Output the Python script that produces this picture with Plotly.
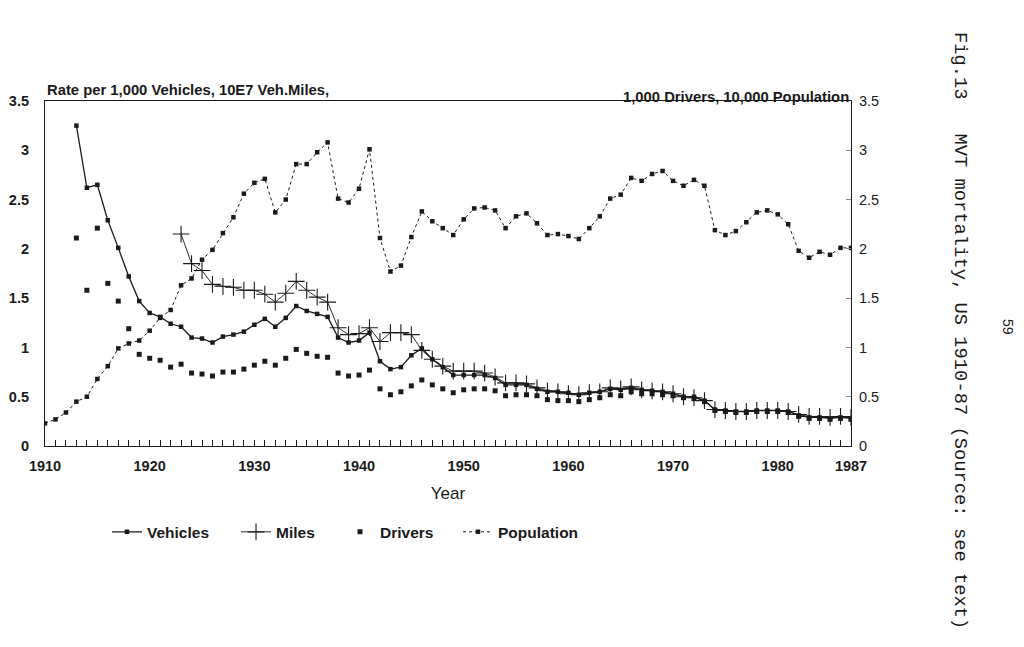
import plotly.graph_objects as go

years_all = list(range(1910, 1988))
years_veh = list(range(1913, 1988))
years_mil = list(range(1923, 1988))

population = [0.23, 0.27, 0.34, 0.45, 0.50, 0.68, 0.81, 0.99, 1.04, 1.07,
              1.17, 1.30, 1.38, 1.63, 1.70, 1.89, 1.99, 2.16, 2.32, 2.56,
              2.67, 2.71, 2.37, 2.50, 2.86, 2.86, 2.98, 3.08, 2.51, 2.47,
              2.61, 3.01, 2.11, 1.77, 1.83, 2.12, 2.38, 2.28, 2.21, 2.14,
              2.30, 2.41, 2.42, 2.39, 2.21, 2.33, 2.36, 2.26, 2.14, 2.15,
              2.13, 2.10, 2.21, 2.33, 2.51, 2.55, 2.72, 2.69, 2.76, 2.79,
              2.69, 2.64, 2.70, 2.64, 2.19, 2.14, 2.18, 2.27, 2.37, 2.39,
              2.35, 2.25, 1.98, 1.91, 1.97, 1.94, 2.01, 2.01]

vehicles = [3.25, 2.62, 2.65, 2.29, 2.01, 1.72, 1.47, 1.35, 1.31, 1.24,
            1.21, 1.10, 1.09, 1.05, 1.11, 1.13, 1.16, 1.23, 1.29, 1.21,
            1.30, 1.42, 1.37, 1.34, 1.31, 1.10, 1.05, 1.07, 1.15, 0.86,
            0.78, 0.80, 0.92, 0.99, 0.88, 0.80, 0.72, 0.72, 0.72, 0.72,
            0.69, 0.62, 0.62, 0.62, 0.58, 0.55, 0.55, 0.54, 0.52, 0.54,
            0.55, 0.58, 0.57, 0.59, 0.57, 0.56, 0.55, 0.53, 0.50, 0.50,
            0.46, 0.37, 0.36, 0.35, 0.35, 0.36, 0.36, 0.36, 0.35, 0.31,
            0.29, 0.29, 0.28, 0.29, 0.28]

miles = [2.15, 1.85, 1.78, 1.64, 1.62, 1.61, 1.58, 1.58, 1.54, 1.46,
         1.55, 1.67, 1.58, 1.51, 1.46, 1.20, 1.13, 1.14, 1.20, 1.06,
         1.15, 1.15, 1.13, 0.97, 0.88, 0.81, 0.76, 0.76, 0.76, 0.74,
         0.70, 0.64, 0.64, 0.63, 0.59, 0.56, 0.55, 0.53, 0.52, 0.54,
         0.55, 0.59, 0.58, 0.60, 0.57, 0.56, 0.55, 0.53, 0.50, 0.49,
         0.46, 0.37, 0.36, 0.35, 0.35, 0.36, 0.36, 0.36, 0.35, 0.32,
         0.30, 0.30, 0.29, 0.30, 0.29]

drivers = [2.11, 1.58, 2.21, 1.65, 1.47, 1.19, 0.93, 0.89, 0.87, 0.80,
           0.83, 0.74, 0.73, 0.71, 0.75, 0.75, 0.78, 0.82, 0.86, 0.82,
           0.89, 0.98, 0.94, 0.91, 0.90, 0.74, 0.71, 0.72, 0.77, 0.58,
           0.52, 0.55, 0.61, 0.67, 0.62, 0.58, 0.54, 0.57, 0.58, 0.58,
           0.56, 0.51, 0.52, 0.52, 0.51, 0.47, 0.46, 0.46, 0.45, 0.47,
           0.49, 0.52, 0.51, 0.55, 0.53, 0.53, 0.52, 0.51, 0.49, 0.48,
           0.45, 0.36, 0.35, 0.34, 0.34, 0.35, 0.35, 0.35, 0.34, 0.30,
           0.28, 0.28, 0.27, 0.28, 0.27]

x_tickvals = [1910, 1920, 1930, 1940, 1950, 1960, 1970, 1980, 1987]
x_ticktext = ["1910", "1920", "1930", "1940", "1950", "1960", "1970", "1980", "1987"]
y_tickvals = [0, 0.5, 1, 1.5, 2, 2.5, 3, 3.5]
y_ticktext = ["0", "0.5", "1", "1.5", "2", "2.5", "3", "3.5"]

INK = "#1a1a1a"
FONT = "Liberation Sans"

fig = go.Figure()
fig.add_trace(go.Scatter(
    x=years_veh, y=vehicles, name="Vehicles", mode="lines+markers",
    line=dict(color=INK, width=1.3),
    marker=dict(symbol="square", size=4.5, color=INK), yaxis="y",
    legend="legend"))
fig.add_trace(go.Scatter(
    x=years_mil, y=miles, name="Miles", mode="lines+markers",
    line=dict(color=INK, width=0.9),
    marker=dict(symbol="cross-thin", size=12, color=INK,
                line=dict(color=INK, width=1.1)), yaxis="y",
    legend="legend2"))
fig.add_trace(go.Scatter(
    x=years_veh, y=drivers, name="Drivers", mode="markers",
    marker=dict(symbol="square", size=5, color=INK), yaxis="y2",
    legend="legend3"))
fig.add_trace(go.Scatter(
    x=years_all, y=population, name="Population", mode="lines+markers",
    line=dict(color=INK, width=1, dash="dot"),
    marker=dict(symbol="square", size=4.5, color=INK), yaxis="y2",
    legend="legend4"))

legend_font = dict(size=15.5, family=FONT, color=INK, weight="bold")


def legend_box(xpos):
    return dict(orientation="h", x=xpos, y=-0.25, xanchor="left",
                yanchor="middle", font=legend_font, bgcolor="rgba(0,0,0,0)")


# page body has an 8px default margin, so the figure is sized/offset for it
fig.update_layout(
    width=1008, height=631,
    margin=dict(l=37, r=165, t=93, b=193),
    paper_bgcolor="white", plot_bgcolor="white",
    font=dict(family=FONT, color=INK),
    showlegend=True,
    legend=legend_box(0.0769),
    legend2=legend_box(0.2370),
    legend3=legend_box(0.3660),
    legend4=legend_box(0.5124),
    xaxis=dict(range=[1910, 1987], tickvals=x_tickvals, ticktext=x_ticktext,
               automargin=False,
               ticks="inside", ticklen=6, tickcolor=INK, tickwidth=1,
               minor=dict(dtick=1, tick0=1910, ticks="inside", ticklen=6,
                          tickcolor=INK, tickwidth=1),
               showline=True, linecolor=INK, linewidth=1.2, mirror=True,
               showgrid=False, zeroline=False,
               tickfont=dict(size=14.5, family=FONT, color=INK, weight="bold"),
               ticklabelstandoff=6,
               title=dict(text="Year", standoff=14,
                          font=dict(size=17, family=FONT, color=INK))),
    yaxis=dict(range=[0, 3.5], tickvals=y_tickvals, ticktext=y_ticktext,
               automargin=False,
               ticks="", showline=True, linecolor=INK, linewidth=1.2,
               showgrid=False, zeroline=False, ticklabelstandoff=12,
               tickfont=dict(size=14.5, family=FONT, color=INK, weight="bold")),
    yaxis2=dict(range=[0, 3.5], tickvals=y_tickvals, ticktext=y_ticktext,
                automargin=False,
                overlaying="y", side="right", ticks="inside", ticklen=5,
                tickcolor="#888", showline=True, linecolor=INK, linewidth=1.2,
                showgrid=False, zeroline=False, ticklabelstandoff=4,
                tickfont=dict(size=14.5, family=FONT, color=INK)),
)

fig.add_annotation(text="Rate per 1,000 Vehicles, 10E7 Veh.Miles,",
                   xref="paper", yref="paper", x=0.0, y=1.0, xanchor="left",
                   yanchor="bottom", yshift=1, showarrow=False,
                   font=dict(size=14.8, family=FONT, color=INK, weight="bold"))
fig.add_annotation(text="1,000 Drivers, 10,000 Population",
                   xref="paper", yref="paper", x=1.0, y=1.0, xanchor="right",
                   yanchor="bottom", yshift=-6, showarrow=False,
                   font=dict(size=14.8, family=FONT, color=INK, weight="bold"))
fig.add_annotation(text="Fig.13\u00a0\u00a0\u00a0MVT mortality, US 1910-87 (Source: see text)",
                   xref="paper", yref="paper", x=1.0, y=1.0, xshift=109,
                   yshift=-229, xanchor="center", yanchor="middle",
                   textangle=90, showarrow=False,
                   font=dict(size=18.8, family="Liberation Mono", color=INK))
fig.add_annotation(text="59", xref="paper", yref="paper", x=1.0, y=1.0,
                   xshift=157, yshift=-226, xanchor="center", yanchor="middle",
                   textangle=90, showarrow=False,
                   font=dict(size=14, family=FONT, color=INK))

fig.write_html("out.html")
